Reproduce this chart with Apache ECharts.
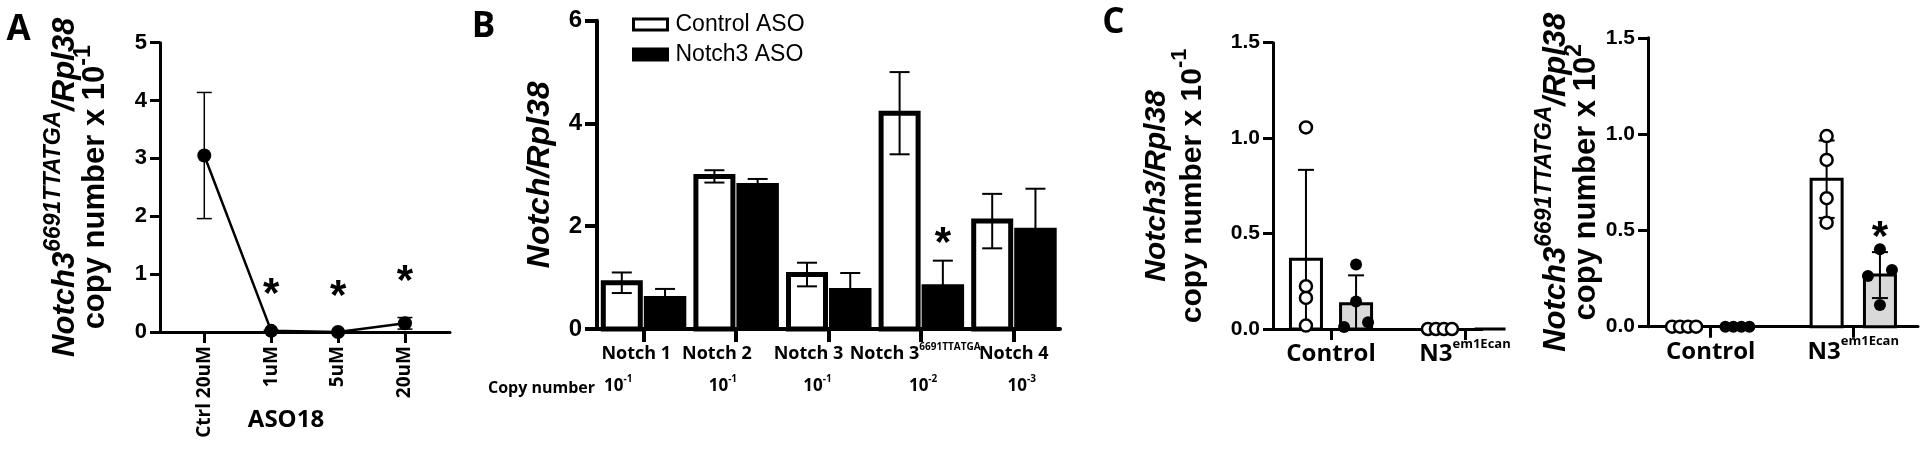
<!DOCTYPE html>
<html><head><meta charset="utf-8">
<script src="https://cdn.jsdelivr.net/npm/echarts@6/dist/echarts.min.js"></script>
<style>html,body{margin:0;padding:0;background:#fff}#c{width:1920px;height:454px}</style>
</head><body><div id="c"></div>
<script>
// ---------------- data ----------------
// Panel A
const aCategories = ['Ctrl 20uM', '1uM', '5uM', '20uM'];
const aMeans = [3.05, 0.02, 0.0, 0.15];
const aErrors = [1.09, 0.01, 0.0, 0.10];
const aSignificant = [false, true, true, true];
const aXName = 'ASO18';

// Panel B
const bCategories = ['Notch 1', 'Notch 2', 'Notch 3', 'Notch 3^6691TTATGA', 'Notch 4'];
const bCopyTitle = 'Copy number';
const bCopyNumber = ['10^-1', '10^-1', '10^-1', '10^-2', '10^-3'];
const bControlMeans = [0.90, 2.97, 1.06, 4.20, 2.10];
const bControlErrors = [0.20, 0.12, 0.23, 0.80, 0.53];
const bAsoMeans = [0.64, 2.84, 0.80, 0.87, 1.97];
const bAsoErrors = [0.14, 0.08, 0.29, 0.46, 0.76];
const bSignificant = [false, false, false, true, false];
const bSeriesNames = ['Control ASO', 'Notch3 ASO'];

// Panel C (individual points per group)
const cCategories = ['Control', 'N3^em1Ecan'];
const cLeftControlAso = [[1.056, 0.224, 0.163, 0.018], [0, 0, 0, 0]];
const cLeftNotch3Aso = [[0.338, 0.144, 0.010, 0.035], [0, 0, 0, 0]];
const cRightControlAso = [[0, 0, 0, 0], [0.990, 0.866, 0.667, 0.540]];
const cRightNotch3Aso = [[0, 0, 0, 0], [0.402, 0.294, 0.263, 0.113]];
const cRightSignificant = [false, true];

// ---------------- styling ----------------
const SANS = '"Liberation Sans", Arial, sans-serif';
const OPEN = '"Open Sans", sans-serif';
const bLabelShift = [-7, -19, -20, -6, 0];
const bCopyShift = [-25, -13, -11, 2, 8];

function mean(a) { return a.reduce((s, v) => s + v, 0) / a.length; }
function sd(a) { const m = mean(a); return Math.sqrt(a.reduce((s, v) => s + (v - m) * (v - m), 0) / (a.length - 1)); }

function barRender(unitOff, pxOff, w, style) {
  return function (params, api) {
    const i = api.value(0) + unitOff, v = api.value(1);
    const p0 = api.coord([i, 0]), p1 = api.coord([i, v]);
    return { type: 'rect', shape: { x: p0[0] + pxOff - w / 2, y: p1[1], width: w, height: p0[1] - p1[1] }, style: style };
  };
}
function errRender(unitOff, pxOff, cap, lw) {
  return function (params, api) {
    const i = api.value(0) + unitOff, m = api.value(1), e = api.value(2);
    if (!(e > 0)) return { type: 'group', children: [] };
    const lo = Math.max(0, m - e), hi = m + e;
    const pt = api.coord([i, hi]), pb = api.coord([i, lo]);
    const x = pt[0] + pxOff;
    const st = { stroke: '#000', lineWidth: lw };
    const ch = [
      { type: 'line', shape: { x1: x, y1: pt[1], x2: x, y2: pb[1] }, style: st },
      { type: 'line', shape: { x1: x - cap / 2, y1: pt[1], x2: x + cap / 2, y2: pt[1] }, style: st }
    ];
    if (m - e > 0) ch.push({ type: 'line', shape: { x1: x - cap / 2, y1: pb[1], x2: x + cap / 2, y2: pb[1] }, style: st });
    return { type: 'group', children: ch };
  };
}
function starRender(unitOff, pxOff, dy) {
  return function (params, api) {
    const p = api.coord([api.value(0) + unitOff, api.value(1)]);
    return { type: 'text', x: p[0] + pxOff, y: p[1] - dy + 10,
      style: { text: '*', font: 'bold 42px ' + SANS, fill: '#000', align: 'center', verticalAlign: 'middle' } };
  };
}
// spread overlapping points sideways (px offsets)
function dodge(values, thr) {
  const idx = values.map((v, i) => i).sort((a, b) => values[a] - values[b]);
  const offs = new Array(values.length).fill(0);
  let cluster = [idx[0]];
  const flush = () => { const n = cluster.length; if (n > 1) cluster.forEach((k, j) => { offs[k] = -12 + 24 * j / (n - 1); }); };
  for (let j = 1; j < idx.length; j++) {
    if (values[idx[j]] - values[cluster[cluster.length - 1]] < thr) cluster.push(idx[j]);
    else { flush(); cluster = [idx[j]]; }
  }
  flush();
  return offs;
}
function pointData(groups, unitOff) {
  const out = [];
  groups.forEach((vals, g) => {
    const offs = dodge(vals, 0.045);
    vals.forEach((v, k) => out.push({ value: [g + unitOff, v], symbolOffset: [offs[k], 0] }));
  });
  return out;
}
function summary(groups) { return groups.map((vals, g) => [g, mean(vals), sd(vals)]); }

// rich label helper: "main^sup"
function supLabel(text, m, s) {
  const parts = text.split('^');
  return '{' + m + '|' + parts[0] + '}' + (parts[1] ? '{' + s + '|' + parts[1] + '}' : '');
}

const axisBlack = (w) => ({ show: true, onZero: false, lineStyle: { color: '#000', width: w } });
const tickBlack = (w, len) => ({ show: true, length: len, lineStyle: { color: '#000', width: w } });

// main text + raised superscript (token heights drive the vertical placement)
function supStyles(family, fs, sfs, lh, raise, italic, extra) {
  const base = { fontFamily: family, fontWeight: 'bold', color: '#000' };
  if (italic) base.fontStyle = 'italic';
  const m = Object.assign({}, base, { fontSize: fs, lineHeight: lh, height: lh, verticalAlign: 'top' });
  const sh = Math.max(2, lh - 2 * raise);
  const s = Object.assign({}, base, { fontSize: sfs, lineHeight: sh, height: sh, verticalAlign: 'top' });
  return Object.assign({ m: m, s: s }, extra || {});
}

// ---------------- option ----------------
const cUnitOff = 0.187;
const cBarW = 31;
const cLeftCtrlSum = summary(cLeftControlAso), cLeftAsoSum = summary(cLeftNotch3Aso);
const cRightCtrlSum = summary(cRightControlAso), cRightAsoSum = summary(cRightNotch3Aso);

const bRich = supStyles(OPEN, 18, 10, 22, 7, false);
bLabelShift.forEach((v, i) => { bRich['sp' + i] = { width: 2 * Math.abs(v), fontSize: 6, height: 6, lineHeight: 6 }; });
const copyRich = supStyles(OPEN, 17, 10, 22, 7, false);
bCopyShift.forEach((v, i) => { copyRich['sp' + i] = { width: 2 * Math.abs(v), fontSize: 6, height: 6, lineHeight: 6 }; });
function shifted(str, sh, i) {
  if (sh < 0) return str + '{sp' + i + '|\u00a0}';
  if (sh > 0) return '{sp' + i + '|\u00a0}' + str;
  return str;
}
const cXRich = supStyles(OPEN, 24, 13, 30, 10, false);

// y-axis names: italic first line (it/its), upright second line (n/ns)
function nameRich(fs, sfs, lh, raise) {
  const a = supStyles(SANS, fs, sfs, lh, raise, true);
  const b = supStyles(SANS, fs, sfs, lh, raise, false);
  return { it: a.m, its: a.s, n: b.m, ns: b.s };
}

const option = {
  animation: false,
  backgroundColor: '#fff',
  grid: [
    { left: 160, top: 42.7, width: 290, height: 289.3, outerBoundsMode: 'none' },
    { left: 597, top: 20.7, width: 463, height: 308.3, outerBoundsMode: 'none' },
    { left: 1273, top: 42.7, width: 209, height: 286.3, outerBoundsMode: 'none' },
    { left: 1648, top: 37.8, width: 270, height: 288.9, outerBoundsMode: 'none' }
  ],
  legend: {
    orient: 'vertical', left: 627, top: 8, itemWidth: 34, itemHeight: 11, itemGap: 7, selectedMode: false,
    icon: 'rect',
    textStyle: { fontFamily: SANS, fontSize: 23, color: '#000', padding: [0, 0, 0, 3] },
    data: [
      { name: bSeriesNames[0], itemStyle: { color: '#fff', borderColor: '#000', borderWidth: 3 } },
      { name: bSeriesNames[1], itemStyle: { color: '#000', borderColor: '#000', borderWidth: 3 } }
    ]
  },
  xAxis: [
    { // A
      type: 'value', gridIndex: 0, min: -0.662, max: 3.673,
      axisLine: axisBlack(3),
      axisTick: Object.assign(tickBlack(3, 11), { customValues: aCategories.map((c, i) => i) }),
      axisLabel: { customValues: aCategories.map((c, i) => i), rotate: 90, margin: 14,
        formatter: v => aCategories[Math.round(v)], fontFamily: OPEN, fontWeight: 'bold', fontSize: 19, color: '#000' },
      splitLine: { show: false },
      name: aXName, nameLocation: 'middle', nameGap: 76, nameMoveOverlap: false,
      nameTextStyle: { fontFamily: OPEN, fontWeight: 'bold', fontSize: 24, color: '#000', padding: [0, 38, 0, 0] }
    },
    { // B main
      type: 'category', gridIndex: 1, data: bCategories,
      axisLine: axisBlack(4), axisTick: Object.assign(tickBlack(4, 13), { alignWithLabel: true }),
      axisLabel: { margin: 14, interval: 0, rich: bRich,
        formatter: (v, i) => shifted(supLabel(v, 'm', 's'), bLabelShift[i], i) },
      splitLine: { show: false }
    },
    { // B copy-number row
      type: 'category', gridIndex: 1, data: bCategories, position: 'bottom', offset: 57,
      axisLine: { show: false }, axisTick: { show: false },
      axisLabel: { margin: -11, interval: 0, rich: copyRich,
        formatter: (v, i) => shifted(supLabel(bCopyNumber[i], 'm', 's'), bCopyShift[i], i) }
    },
    { // C left
      type: 'value', gridIndex: 2, min: -0.433, max: 1.127,
      axisLine: axisBlack(3),
      axisTick: Object.assign(tickBlack(3, 11), { customValues: [0, 1] }),
      axisLabel: { customValues: [0, 1], margin: 10, rich: cXRich,
        formatter: v => supLabel(cCategories[Math.round(v)], 'm', 's') },
      splitLine: { show: false }
    },
    { // C right
      type: 'value', gridIndex: 3, min: -0.44, max: 1.454,
      axisLine: axisBlack(3),
      axisTick: Object.assign(tickBlack(3, 11), { customValues: [0, 1] }),
      axisLabel: { customValues: [0, 1], margin: 10, rich: cXRich,
        formatter: v => supLabel(cCategories[Math.round(v)], 'm', 's') },
      splitLine: { show: false }
    }
  ],
  yAxis: [
    { type: 'value', gridIndex: 0, min: 0, max: 5, interval: 1,
      axisLine: axisBlack(3), axisTick: tickBlack(3, 10), splitLine: { show: false },
      axisLabel: { margin: 13, fontFamily: SANS, fontWeight: 'bold', fontSize: 22, color: '#000' },
      name: '{it|Notch3}{its|6691TTATGA}{it|/Rpl38}\n{n|copy number x 10}{ns|-1}',
      nameLocation: 'middle', nameRotate: 90, nameGap: 50, nameMoveOverlap: false,
      nameTextStyle: { rich: nameRich(31, 23, 30, 11), align: 'center' } },
    { type: 'value', gridIndex: 1, min: 0, max: 6, interval: 2,
      axisLine: axisBlack(4), axisTick: tickBlack(4, 12), splitLine: { show: false },
      axisLabel: { margin: 15, fontFamily: SANS, fontWeight: 'bold', fontSize: 24, color: '#000' },
      name: '{it|Notch/Rpl38}', nameLocation: 'middle', nameRotate: 90, nameGap: 40, nameMoveOverlap: false,
      nameTextStyle: { rich: nameRich(32, 20, 34, 10) } },
    { type: 'value', gridIndex: 2, min: 0, max: 1.5, interval: 0.5,
      axisLine: axisBlack(3), axisTick: tickBlack(3, 10), splitLine: { show: false },
      axisLabel: { margin: 13, fontFamily: SANS, fontWeight: 'bold', fontSize: 21, color: '#000', formatter: v => v.toFixed(1) },
      name: '{it|Notch3/Rpl38}\n{n|copy number x 10}{ns|-1}', nameLocation: 'middle', nameRotate: 90, nameGap: 62, nameMoveOverlap: false,
      nameTextStyle: { rich: nameRich(30, 22, 36, 13) } },
    { type: 'value', gridIndex: 3, min: 0, max: 1.5, interval: 0.5,
      axisLine: axisBlack(3), axisTick: tickBlack(3, 10), splitLine: { show: false },
      axisLabel: { margin: 13, fontFamily: SANS, fontWeight: 'bold', fontSize: 21, color: '#000', formatter: v => v.toFixed(1) },
      name: '{it|Notch3}{its|6691TTATGA}{it|/Rpl38}\n{n|copy number x 10}{ns|2}', nameLocation: 'middle', nameRotate: 90, nameGap: 47, nameMoveOverlap: false,
      nameTextStyle: { rich: nameRich(31, 23, 30, 11) } }
  ],
  series: [
    // ---- A ----
    { type: 'custom', name: 'A err', xAxisIndex: 0, yAxisIndex: 0, z: 2,
      data: aMeans.map((m, i) => [i, m, aErrors[i]]), renderItem: errRender(0, 0, 15, 1.5) },
    { type: 'line', name: 'A', xAxisIndex: 0, yAxisIndex: 0, z: 3,
      data: aMeans.map((m, i) => [i, m]), symbol: 'circle', symbolSize: 14,
      lineStyle: { color: '#000', width: 2.5 }, itemStyle: { color: '#000' } },
    { type: 'custom', name: 'A star', xAxisIndex: 0, yAxisIndex: 0, z: 4,
      data: aMeans.map((m, i) => [i, m + aErrors[i]]).filter((d, i) => aSignificant[i]),
      renderItem: starRender(0, 0, 45) },
    // ---- B ----
    { type: 'custom', name: bSeriesNames[0], xAxisIndex: 1, yAxisIndex: 1, z: 2,
      itemStyle: { color: '#fff', borderColor: '#000', borderWidth: 3 },
      data: bControlMeans.map((m, i) => [i, m]),
      renderItem: barRender(0, -21.5, 37, { fill: '#fff', stroke: '#000', lineWidth: 5 }) },
    { type: 'custom', name: bSeriesNames[1], xAxisIndex: 1, yAxisIndex: 1, z: 2,
      itemStyle: { color: '#000' },
      data: bAsoMeans.map((m, i) => [i, m]),
      renderItem: barRender(0, 21.75, 42.5, { fill: '#000' }) },
    { type: 'custom', name: 'B err ctrl', xAxisIndex: 1, yAxisIndex: 1, z: 3,
      data: bControlMeans.map((m, i) => [i, m, bControlErrors[i]]), renderItem: errRender(0, -21.5, 20, 2) },
    { type: 'custom', name: 'B err aso', xAxisIndex: 1, yAxisIndex: 1, z: 3,
      data: bAsoMeans.map((m, i) => [i, m, bAsoErrors[i]]), renderItem: errRender(0, 21.75, 20, 2) },
    { type: 'custom', name: 'B star', xAxisIndex: 1, yAxisIndex: 1, z: 4,
      data: bAsoMeans.map((m, i) => [i, m + bAsoErrors[i]]).filter((d, i) => bSignificant[i]),
      renderItem: starRender(0, 21.75, 26) },
    // ---- C left ----
    { type: 'custom', name: 'CL ctrl bar', xAxisIndex: 3, yAxisIndex: 2, z: 2, data: cLeftCtrlSum,
      renderItem: barRender(-cUnitOff, 0, cBarW, { fill: '#fff', stroke: '#000', lineWidth: 3 }) },
    { type: 'custom', name: 'CL aso bar', xAxisIndex: 3, yAxisIndex: 2, z: 2, data: cLeftAsoSum,
      renderItem: barRender(cUnitOff, 0, cBarW, { fill: '#d9d9d9', stroke: '#000', lineWidth: 3 }) },
    { type: 'custom', name: 'CL ctrl err', xAxisIndex: 3, yAxisIndex: 2, z: 3, data: cLeftCtrlSum,
      renderItem: errRender(-cUnitOff, 0, 16, 2) },
    { type: 'custom', name: 'CL aso err', xAxisIndex: 3, yAxisIndex: 2, z: 3, data: cLeftAsoSum,
      renderItem: errRender(cUnitOff, 0, 16, 2) },
    { type: 'scatter', name: 'CL ctrl pts', xAxisIndex: 3, yAxisIndex: 2, z: 4, symbolSize: 12,
      itemStyle: { color: '#fff', borderColor: '#000', borderWidth: 2.5, opacity: 1 }, data: pointData(cLeftControlAso, -cUnitOff) },
    { type: 'scatter', name: 'CL aso pts', xAxisIndex: 3, yAxisIndex: 2, z: 4, symbolSize: 12,
      itemStyle: { color: '#000', opacity: 1 }, data: pointData(cLeftNotch3Aso, cUnitOff) },
    // ---- C right ----
    { type: 'custom', name: 'CR ctrl bar', xAxisIndex: 4, yAxisIndex: 3, z: 2, data: cRightCtrlSum,
      renderItem: barRender(-cUnitOff, 0, cBarW, { fill: '#fff', stroke: '#000', lineWidth: 3 }) },
    { type: 'custom', name: 'CR aso bar', xAxisIndex: 4, yAxisIndex: 3, z: 2, data: cRightAsoSum,
      renderItem: barRender(cUnitOff, 0, cBarW, { fill: '#d9d9d9', stroke: '#000', lineWidth: 3 }) },
    { type: 'custom', name: 'CR ctrl err', xAxisIndex: 4, yAxisIndex: 3, z: 3, data: cRightCtrlSum,
      renderItem: errRender(-cUnitOff, 0, 16, 2) },
    { type: 'custom', name: 'CR aso err', xAxisIndex: 4, yAxisIndex: 3, z: 3, data: cRightAsoSum,
      renderItem: errRender(cUnitOff, 0, 16, 2) },
    { type: 'scatter', name: 'CR ctrl pts', xAxisIndex: 4, yAxisIndex: 3, z: 4, symbolSize: 12,
      itemStyle: { color: '#fff', borderColor: '#000', borderWidth: 2.5, opacity: 1 }, data: pointData(cRightControlAso, -cUnitOff) },
    { type: 'scatter', name: 'CR aso pts', xAxisIndex: 4, yAxisIndex: 3, z: 4, symbolSize: 12,
      itemStyle: { color: '#000', opacity: 1 }, data: pointData(cRightNotch3Aso, cUnitOff) },
    { type: 'custom', name: 'CR star', xAxisIndex: 4, yAxisIndex: 3, z: 5,
      data: cRightNotch3Aso.map((vals, g) => [g, Math.max(Math.max.apply(null, vals), mean(vals) + sd(vals))]).filter((d, g) => cRightSignificant[g]),
      renderItem: starRender(cUnitOff, 0, 21) }
  ],
  graphic: [
    { type: 'text', x: 18.5, y: 30, style: { text: 'A', font: 'bold 35px ' + OPEN, fill: '#000', align: 'center', verticalAlign: 'middle' } },
    { type: 'text', x: 483.5, y: 27, style: { text: 'B', font: 'bold 35px ' + OPEN, fill: '#000', align: 'center', verticalAlign: 'middle' } },
    { type: 'text', x: 1113.5, y: 23, style: { text: 'C', font: 'bold 35px ' + OPEN, fill: '#000', align: 'center', verticalAlign: 'middle' } },
    { type: 'text', x: 595, y: 388, style: { text: bCopyTitle, font: 'bold 16px ' + OPEN, fill: '#000', align: 'right', verticalAlign: 'middle' } }
  ]
};
const chart = echarts.init(document.getElementById('c'));
chart.setOption(option);
</script></body></html>
